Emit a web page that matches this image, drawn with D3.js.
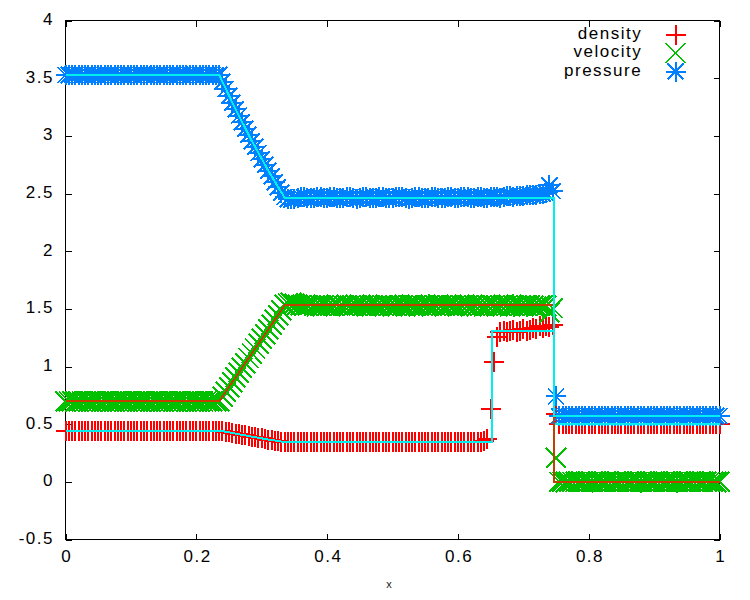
<!DOCTYPE html>
<html>
<head>
<meta charset="utf-8">
<script src="https://cdn.jsdelivr.net/npm/d3@7"></script>
<style>
  body { margin: 0; background: #fff; }
  svg { display: block; }
  text { font-family: "Liberation Sans", Arial, sans-serif; }
</style>
</head>
<body>
<div id="chart"></div>
<script>
// numerical solution, one value per grid point x = 0, 0.005, ... 1
var density = [
  0.445,0.445,0.445,0.445,0.445,0.445,0.445,0.445,0.445,0.445,
  0.445,0.445,0.445,0.445,0.445,0.445,0.445,0.445,0.445,0.445,
  0.445,0.445,0.445,0.445,0.445,0.445,0.445,0.445,0.445,0.445,
  0.445,0.445,0.445,0.445,0.445,0.445,0.445,0.445,0.445,0.445,
  0.445,0.445,0.445,0.445,0.445,0.445,0.445,
  0.445,0.441,0.435,0.429,0.423,0.418,0.413,0.407,0.402,0.397,0.392,
  0.387,0.382,0.377,0.372,0.367,0.362,0.358,0.353,0.349,0.346,
  0.344,0.343,0.344,0.345,0.344,0.345,0.346,0.345,0.344,0.345,
  0.346,0.345,0.344,0.345,0.346,0.345,0.344,0.345,0.345,0.346,
  0.345,0.344,0.345,0.346,0.345,0.345,0.344,0.345,0.346,0.345,
  0.344,0.345,0.346,0.345,0.344,0.345,0.345,0.346,0.345,0.344,
  0.345,0.346,0.345,0.344,0.345,0.346,0.345,0.345,0.344,0.345,
  0.346,0.345,0.344,0.345,0.346,0.345,0.344,0.345,0.346,0.347,0.350,
  0.372,0.628,1.040,1.255,
  1.300,1.312,1.296,1.308,1.318,1.302,1.311,1.326,1.309,1.320,
  1.338,1.327,1.348,1.336,1.352,1.340,1.362,
  0.590,
  0.5,0.5,0.5,0.5,0.5,0.5,0.5,0.5,0.5,0.5,
  0.5,0.5,0.5,0.5,0.5,0.5,0.5,0.5,0.5,0.5,
  0.5,0.5,0.5,0.5,0.5,0.5,0.5,0.5,0.5,0.5,
  0.5,0.5,0.5,0.5,0.5,0.5,0.5,0.5,0.5,0.5,
  0.5,0.5,0.5,0.5,0.5,0.5,0.5,0.5,0.5,0.5
];
var velocity = [
  0.698,0.698,0.698,0.698,0.698,0.698,0.698,0.698,0.698,0.698,
  0.698,0.698,0.698,0.698,0.698,0.698,0.698,0.698,0.698,0.698,
  0.698,0.698,0.698,0.698,0.698,0.698,0.698,0.698,0.698,0.698,
  0.698,0.698,0.698,0.698,0.698,0.698,0.698,0.698,0.698,0.698,
  0.698,0.698,0.698,0.698,0.698,0.698,0.698,
  0.698,0.738,0.780,0.822,0.864,0.905,0.947,0.989,1.030,1.072,1.113,
  1.155,1.197,1.238,1.280,1.321,1.363,1.404,1.446,1.490,1.535,
  1.548,1.552,1.544,1.536,1.531,1.524,1.530,1.535,1.528,1.522,
  1.529,1.534,1.527,1.523,1.531,1.536,1.528,1.525,1.532,1.529,
  1.524,1.531,1.535,1.527,1.522,1.530,1.534,1.528,1.524,1.531,
  1.536,1.527,1.523,1.530,1.533,1.526,1.522,1.531,1.535,1.528,
  1.524,1.530,1.534,1.527,1.523,1.531,1.536,1.529,1.524,1.530,
  1.533,1.526,1.522,1.530,1.535,1.528,1.523,1.531,1.534,1.527,
  1.521,1.529,1.535,1.527,1.523,1.531,1.536,1.528,1.522,1.530,
  1.533,1.526,1.521,1.529,1.534,1.525,1.520,1.528,1.531,1.524,
  1.470,1.505,0.210,
  0,0,0,0,0,0,0,0,0,0,
  0,0,0,0,0,0,0,0,0,0,
  0,0,0,0,0,0,0,0,0,0,
  0,0,0,0,0,0,0,0,0,0,
  0,0,0,0,0,0,0,0,0,0
];
var pressure = [
  3.528,3.528,3.528,3.528,3.528,3.528,3.528,3.528,3.528,3.528,
  3.528,3.528,3.528,3.528,3.528,3.528,3.528,3.528,3.528,3.528,
  3.528,3.528,3.528,3.528,3.528,3.528,3.528,3.528,3.528,3.528,
  3.528,3.528,3.528,3.528,3.528,3.528,3.528,3.528,3.528,3.528,
  3.528,3.528,3.528,3.528,3.528,3.528,3.528,
  3.528,3.470,3.408,3.348,3.289,3.231,3.174,3.119,3.063,3.009,2.955,
  2.903,2.850,2.799,2.748,2.699,2.649,2.601,2.554,2.508,2.470,
  2.452,2.448,2.455,2.461,2.466,2.470,2.463,2.458,2.465,2.471,
  2.466,2.459,2.463,2.470,2.468,2.461,2.457,2.464,2.471,2.467,
  2.460,2.456,2.463,2.469,2.472,2.465,2.458,2.462,2.468,2.471,
  2.464,2.457,2.461,2.467,2.473,2.468,2.460,2.456,2.463,2.470,
  2.468,2.461,2.457,2.464,2.471,2.469,2.462,2.458,2.465,2.472,
  2.467,2.460,2.463,2.469,2.473,2.466,2.459,2.462,2.468,2.471,
  2.465,2.461,2.466,2.472,2.470,2.464,2.468,2.474,2.477,2.472,
  2.476,2.481,2.478,2.483,2.487,2.484,2.490,2.494,2.499,2.506,
  2.570,2.520,0.740,
  0.571,0.571,0.571,0.571,0.571,0.571,0.571,0.571,0.571,0.571,
  0.571,0.571,0.571,0.571,0.571,0.571,0.571,0.571,0.571,0.571,
  0.571,0.571,0.571,0.571,0.571,0.571,0.571,0.571,0.571,0.571,
  0.571,0.571,0.571,0.571,0.571,0.571,0.571,0.571,0.571,0.571,
  0.571,0.571,0.571,0.571,0.571,0.571,0.571,0.571,0.571,0.571
];

// exact solution, corner points
var exactX        = [0, 0.235, 0.26, 0.285, 0.31, 0.335, 0.6515, 0.6515, 0.7475, 0.7475, 1];
var exactDensity  = [0.445, 0.445, 0.418, 0.392, 0.367, 0.345, 0.345, 1.305, 1.305, 0.5, 0.5];
var exactVelocity = [0.698, 0.698, 0.906, 1.114, 1.321, 1.529, 1.529, 1.529, 1.529, 0, 0];
var exactPressure = [3.528, 3.528, 3.231, 2.955, 2.699, 2.464, 2.464, 2.464, 2.464, 0.571, 0.571];

var xTicks = [0, 0.2, 0.4, 0.6, 0.8, 1];
var xTickLabels = ["0", "0.2", "0.4", "0.6", "0.8", "1"];
var yTicks = [-0.5, 0, 0.5, 1, 1.5, 2, 2.5, 3, 3.5, 4];
var yTickLabels = ["-0.5", "0", "0.5", "1", "1.5", "2", "2.5", "3", "3.5", "4"];
var seriesNames = ["density", "velocity", "pressure"];

var xGrid = d3.range(density.length).map(function(i) { return i / (density.length - 1); });

var plusPath = "M-10,0H10M0,-10V10";
var crossPath = "M-10,-10L10,10M-10,10L10,-10";
var starPath = plusPath + "M-8,-8L8,8M-8,8L8,-8";

var series = [
  { name: seriesNames[0], values: density,  color: "#ff0000", shape: plusPath },
  { name: seriesNames[1], values: velocity, color: "#00c000", shape: crossPath },
  { name: seriesNames[2], values: pressure, color: "#0080ff", shape: starPath }
];

var W = 750, H = 600;
var x = d3.scaleLinear().domain([0, 1]).range([65.5, 719.5]);
var y = d3.scaleLinear().domain([-0.5, 4]).range([539.5, 20.5]);

var svg = d3.select("#chart").append("svg")
    .attr("width", W)
    .attr("height", H);

function styleAxis(g) {
    g.select(".domain").remove();
    g.selectAll("line").attr("stroke", "#000").attr("shape-rendering", "crispEdges");
    g.selectAll("text")
        .attr("fill", "#000")
        .style("font-family", '"Liberation Sans", Arial, sans-serif')
        .style("font-size", "17px")
        .style("letter-spacing", "1.5px");
}

svg.append("g")
    .attr("transform", "translate(0," + y.range()[0] + ")")
    .call(d3.axisBottom(x).tickValues(xTicks).tickSize(-6).tickPadding(10.5)
        .tickFormat(function(d, i) { return xTickLabels[i]; }))
    .call(styleAxis)
    .selectAll("text").attr("dx", "0.75");

svg.append("g")
    .attr("transform", "translate(" + x.range()[0] + ",0)")
    .call(d3.axisLeft(y).tickValues(yTicks).tickSize(-6).tickPadding(11.5)
        .tickFormat(function(d, i) { return yTickLabels[i]; }))
    .call(styleAxis)
    .selectAll("text").attr("dy", "0.24em");

svg.append("g")
    .attr("transform", "translate(0," + y.range()[1] + ")")
    .call(d3.axisTop(x).tickValues(xTicks).tickSize(-6).tickFormat(""))
    .call(styleAxis);

svg.append("g")
    .attr("transform", "translate(" + x.range()[1] + ",0)")
    .call(d3.axisRight(y).tickValues(yTicks).tickSize(-6).tickFormat(""))
    .call(styleAxis);

svg.append("rect")
    .attr("x", x.range()[0])
    .attr("y", y.range()[1])
    .attr("width", x.range()[1] - x.range()[0])
    .attr("height", y.range()[0] - y.range()[1])
    .attr("fill", "none")
    .attr("stroke", "#000")
    .attr("shape-rendering", "crispEdges");

svg.append("text")
    .attr("x", 389)
    .attr("y", 587.5)
    .attr("text-anchor", "middle")
    .style("font-size", "11px")
    .attr("fill", "#222")
    .text("x");

// numerical points
series.forEach(function(s) {
    svg.append("g")
        .attr("class", "points-" + s.name)
        .selectAll("path")
        .data(s.values)
        .enter()
        .append("path")
        .attr("d", s.shape)
        .attr("transform", function(d, i) {
            return "translate(" + x(xGrid[i]) + "," + y(d) + ")";
        })
        .attr("fill", "none")
        .attr("stroke", s.color)
        .attr("stroke-width", 2)
        .attr("shape-rendering", "crispEdges");
});

// exact solution lines
var exactLines = [
    { values: exactDensity,  color: "#00eeee" },
    { values: exactVelocity, color: "#c04000" },
    { values: exactPressure, color: "#00eeee" }
];
exactLines.forEach(function(l) {
    var line = d3.line()
        .x(function(d, i) { return x(exactX[i]); })
        .y(function(d) { return y(d); });
    svg.append("path")
        .datum(l.values)
        .attr("d", line)
        .attr("fill", "none")
        .attr("stroke", l.color)
        .attr("stroke-width", 2)
        .attr("shape-rendering", "crispEdges");
});

// key
var legendRows = [34.5, 53, 71.5];
var key = svg.append("g").attr("class", "key");
series.forEach(function(s, i) {
    key.append("text")
        .attr("x", 642.2)
        .attr("y", legendRows[i] + 4)
        .attr("text-anchor", "end")
        .attr("fill", "#000")
        .style("font-size", "17px")
        .style("letter-spacing", "1.5px")
        .text(s.name);
    key.append("path")
        .attr("d", s.shape)
        .attr("transform", "translate(675.5," + legendRows[i] + ")")
        .attr("fill", "none")
        .attr("stroke", s.color)
        .attr("stroke-width", 2)
        .attr("shape-rendering", "crispEdges");
});
</script>
</body>
</html>
